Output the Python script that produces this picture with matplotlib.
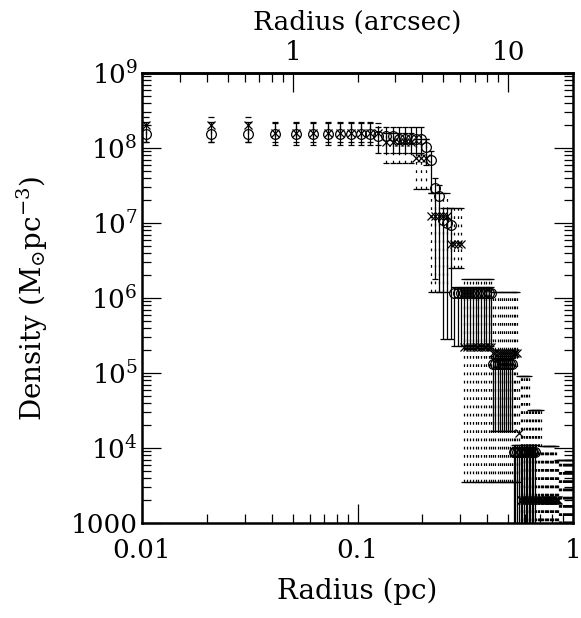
import matplotlib
matplotlib.use('Agg')
import matplotlib.pyplot as plt
from matplotlib.ticker import FixedLocator, FuncFormatter, NullFormatter
import numpy as np

# ---------------- data ----------------
radius_pc = [
    0.0104, 0.0208, 0.0312, 0.0416, 0.0520, 0.0624, 0.0728, 0.0832, 0.0936, 0.1040,
    0.1144, 0.1248, 0.1352, 0.1456, 0.1560, 0.1664, 0.1768, 0.1872, 0.1976, 0.2080,
    0.2184, 0.2288, 0.2392, 0.2496, 0.2600, 0.2704, 0.2808, 0.2912, 0.3016, 0.3120,
    0.3224, 0.3328, 0.3432, 0.3536, 0.3640, 0.3744, 0.3848, 0.3952, 0.4056, 0.4160,
    0.4264, 0.4368, 0.4472, 0.4576, 0.4680, 0.4784, 0.4888, 0.4992, 0.5096, 0.5200,
    0.5304, 0.5408, 0.5512, 0.5616, 0.5720, 0.5824, 0.5928, 0.6032, 0.6136, 0.6240,
    0.6344, 0.6448, 0.6552, 0.6656, 0.6760, 0.6864, 0.6968, 0.7072, 0.7176, 0.7280,
    0.7384, 0.7488, 0.7592, 0.7696, 0.7800, 0.7904, 0.8008, 0.8112, 0.8216, 0.8320,
    0.8424, 0.8528, 0.8632, 0.8736, 0.8840, 0.8944, 0.9048, 0.9152, 0.9256, 0.9360,
    0.9464, 0.9568, 0.9672, 0.9776, 0.9880, 0.9984]

# open circles, solid error bars (first 64 radii)
circle_rho = [
    1.55e8, 1.55e8, 1.55e8, 1.55e8, 1.55e8, 1.55e8, 1.55e8, 1.55e8, 1.55e8, 1.55e8,
    1.55e8, 1.45e8, 1.45e8, 1.45e8, 1.3e8, 1.3e8, 1.3e8, 1.3e8, 1.3e8, 1.03e8,
    6.9e7, 2.9e7, 2.3e7, 1.1e7, 1.0e7, 9.4e6, 1.15e6, 1.15e6, 1.15e6, 1.15e6,
    1.15e6, 1.15e6, 1.15e6, 1.15e6, 1.15e6, 1.15e6, 1.15e6, 1.15e6, 1.15e6, 1.15e6,
    1.3e5, 1.3e5, 1.3e5, 1.3e5, 1.3e5, 1.3e5, 1.3e5, 1.3e5, 1.3e5, 1.3e5,
    8.8e3, 8.8e3, 8.8e3, 8.8e3, 8.8e3, 8.8e3, 8.8e3, 8.8e3, 8.8e3, 8.8e3,
    8.8e3, 8.8e3, 8.8e3, 8.8e3]
circle_low = [
    1.2e8, 1.2e8, 1.2e8, 1.2e8, 1.2e8, 1.2e8, 1.2e8, 1.2e8, 1.2e8, 1.2e8,
    1.2e8, 8.6e7, 8.6e7, 8.6e7, 8.6e7, 8.6e7, 8.6e7, 8.6e7, 8.6e7, 6.0e7,
    2.5e7, 1.8e6, 1.2e6, 2.8e5, 2.8e5, 2.8e5, 2.3e5, 2.3e5, 2.3e5, 2.3e5,
    2.3e5, 2.3e5, 2.3e5, 2.3e5, 2.3e5, 2.3e5, 2.3e5, 2.3e5, 2.3e5, 2.3e5,
    1.7e4, 1.7e4, 1.7e4, 1.7e4, 1.7e4, 1.7e4, 1.7e4, 1.7e4, 1.7e4, 1.7e4,
    500, 500, 500, 500, 500, 500, 500, 500, 500, 500,
    500, 500, 500, 500]
circle_high = [
    2.2e8, 2.2e8, 2.2e8, 2.2e8, 2.2e8, 2.2e8, 2.2e8, 2.2e8, 2.2e8, 2.2e8,
    2.2e8, 1.9e8, 1.9e8, 1.9e8, 1.9e8, 1.9e8, 1.9e8, 1.9e8, 1.9e8, 1.3e8,
    9.0e7, 4.0e7, 3.2e7, 1.6e7, 1.6e7, 1.6e7, 1.4e6, 1.4e6, 1.4e6, 1.4e6,
    1.4e6, 1.4e6, 1.4e6, 1.4e6, 1.4e6, 1.4e6, 1.4e6, 1.4e6, 1.4e6, 1.4e6,
    1.6e5, 1.6e5, 1.6e5, 1.6e5, 1.6e5, 1.6e5, 1.6e5, 1.6e5, 1.6e5, 1.6e5,
    1.1e4, 1.1e4, 1.1e4, 1.1e4, 1.1e4, 1.1e4, 1.1e4, 1.1e4, 1.1e4, 1.1e4,
    1.1e4, 1.1e4, 1.1e4, 1.1e4]

# crosses, dotted error bars (all 96 radii)
cross_rho = [
    2.0e8, 2.0e8, 2.0e8, 1.6e8, 1.6e8, 1.6e8, 1.6e8, 1.6e8, 1.6e8, 1.6e8,
    1.6e8, 1.6e8, 1.2e8, 1.2e8, 1.2e8, 1.2e8, 1.2e8, 7.3e7, 7.3e7, 7.3e7,
    1.25e7, 1.25e7, 1.25e7, 1.25e7, 1.25e7, 5.2e6, 5.2e6, 5.2e6, 5.2e6, 2.2e5,
    2.2e5, 2.2e5, 2.2e5, 2.2e5, 2.2e5, 2.2e5, 2.2e5, 2.2e5, 2.2e5, 2.2e5,
    1.85e5, 1.85e5, 1.85e5, 1.85e5, 1.85e5, 1.85e5, 1.85e5, 1.85e5, 1.85e5, 1.85e5,
    1.85e5, 1.85e5, 1.85e5, 1.6e4, 2.0e3, 2.0e3, 2.0e3, 2.0e3, 2.0e3, 2.0e3,
    2.0e3, 2.0e3, 2.0e3, 2.0e3, 2.0e3, 2.0e3, 2.0e3, 2.0e3, 2.0e3, 2.0e3,
    2.0e3, 2.0e3, 2.0e3, 2.0e3, 2.0e3, 2.0e3, 2.0e3, 2.0e3, 2.0e3, 2.0e3,
    2.0e3, 2.0e3, 700, 700, 700, 700, 700, 700, 700, 700,
    700, 700, 700, 700, 700, 700]
cross_low = [
    1.2e8, 1.2e8, 1.2e8, 1.1e8, 1.1e8, 1.1e8, 1.1e8, 1.1e8, 1.1e8, 1.1e8,
    1.1e8, 1.1e8, 6.3e7, 6.3e7, 6.3e7, 6.3e7, 6.3e7, 2.8e7, 2.8e7, 2.8e7,
    1.2e6, 1.2e6, 1.2e6, 1.2e6, 1.2e6, 2.5e6, 2.5e6, 2.5e6, 2.5e6, 3.5e3,
    3.5e3, 3.5e3, 3.5e3, 3.5e3, 3.5e3, 3.5e3, 3.5e3, 3.5e3, 3.5e3, 3.5e3,
    3.5e3, 3.5e3, 3.5e3, 3.5e3, 3.5e3, 3.5e3, 3.5e3, 3.5e3, 3.5e3, 3.5e3,
    3.5e3, 3.5e3, 3.5e3, 3.5e3, 300, 300, 300, 300, 300, 300,
    300, 300, 300, 300, 300, 300, 300, 300, 300, 300,
    300, 300, 300, 300, 300, 300, 300, 300, 300, 300,
    300, 300, 100, 100, 100, 100, 100, 100, 100, 100,
    100, 100, 100, 100, 100, 100]
cross_high = [
    2.6e8, 2.6e8, 2.6e8, 2.15e8, 2.15e8, 2.15e8, 2.15e8, 2.15e8, 2.15e8, 2.15e8,
    2.15e8, 2.15e8, 1.6e8, 1.6e8, 1.6e8, 1.6e8, 1.6e8, 1.3e8, 1.3e8, 1.3e8,
    2.5e7, 2.5e7, 2.5e7, 2.5e7, 2.5e7, 1.6e7, 1.6e7, 1.6e7, 1.6e7, 1.8e6,
    1.8e6, 1.8e6, 1.8e6, 1.8e6, 1.8e6, 1.8e6, 1.8e6, 1.8e6, 1.8e6, 1.8e6,
    1.2e6, 1.2e6, 1.2e6, 1.2e6, 1.2e6, 1.2e6, 1.2e6, 1.2e6, 1.2e6, 1.2e6,
    1.2e6, 1.2e6, 1.2e6, 9.0e4, 9.0e4, 9.0e4, 9.0e4, 9.0e4, 9.0e4, 9.0e4,
    3.2e4, 3.2e4, 3.2e4, 3.2e4, 3.2e4, 3.2e4, 3.2e4, 3.2e4, 1.05e4, 1.05e4,
    1.05e4, 1.05e4, 1.05e4, 1.05e4, 1.05e4, 1.05e4, 1.05e4, 1.05e4, 1.05e4, 1.05e4,
    7.0e3, 7.0e3, 7.0e3, 7.0e3, 7.0e3, 7.0e3, 7.0e3, 7.0e3, 7.0e3, 7.0e3,
    7.0e3, 7.0e3, 7.0e3, 7.0e3, 7.0e3, 7.0e3]

pc_per_arcsec = 0.05
top_ticks = [1, 10]
top_minor = [0.2, 0.3, 0.4, 0.5, 0.6, 0.7, 0.8, 0.9, 2, 3, 4, 5, 6, 7, 8, 9, 20]
x_ticks = [0.01, 0.1, 1]
x_ticklabels = ['0.01', '0.1', '1']
y_ticks = [1e3, 1e4, 1e5, 1e6, 1e7, 1e8, 1e9]
y_ticklabels = ['1000', r'$10^{4}$', r'$10^{5}$', r'$10^{6}$', r'$10^{7}$', r'$10^{8}$', r'$10^{9}$']

# ---------------- figure ----------------
plt.rcParams['font.family'] = ['DejaVu Serif']
plt.rcParams['mathtext.fontset'] = 'dejavuserif'

fig = plt.figure(figsize=(5.81, 6.18), dpi=100)
ax = fig.add_axes([142 / 581, 1 - 523 / 618, 431 / 581, 450 / 618])
ax.set_xscale('log')
ax.set_yscale('log')
ax.set_xlim(0.01, 1)
ax.set_ylim(1e3, 1e9)

n_c = len(circle_rho)
c_r = np.array(radius_pc[:n_c])
c_rho = np.array(circle_rho)
c_err = [c_rho - np.array(circle_low), np.array(circle_high) - c_rho]
ax.errorbar(c_r, c_rho, yerr=c_err, fmt='o', ms=7, mfc='none', mec='k',
            mew=0.9, ecolor='k', elinewidth=0.9, capsize=2.5, capthick=0.9, zorder=3)

x_r = np.array(radius_pc[:len(cross_rho)])
x_rho = np.array(cross_rho)
x_err = [x_rho - np.array(cross_low), np.array(cross_high) - x_rho]
eb = ax.errorbar(x_r, x_rho, yerr=x_err, fmt='x', ms=5.5, mec='k', mew=0.9,
                 ecolor='k', elinewidth=0.9, capsize=2.5, capthick=0.6, zorder=2)
for lc in eb[2]:
    lc.set_linestyle((0, (2.2, 4.4)))

# axes styling
for s in ax.spines.values():
    s.set_linewidth(1.8)

ax.xaxis.set_major_locator(FixedLocator(x_ticks))
ax.xaxis.set_major_formatter(FuncFormatter(lambda v, p: x_ticklabels[x_ticks.index(min(x_ticks, key=lambda t: abs(np.log10(t) - np.log10(v))))]))
ax.yaxis.set_major_locator(FixedLocator(y_ticks))
ax.yaxis.set_major_formatter(FuncFormatter(lambda v, p: y_ticklabels[int(round(np.log10(v))) - 3]))
ax.xaxis.set_minor_formatter(NullFormatter())
ax.yaxis.set_minor_formatter(NullFormatter())

ax.tick_params(which='both', direction='in', top=False, right=True, width=0.9)
ax.tick_params(which='major', length=13.5)
ax.tick_params(which='minor', length=6.5)
ax.tick_params(axis='x', which='major', pad=11, labelsize=19)
ax.tick_params(axis='y', which='major', pad=3, labelsize=19)

ax.set_xlabel('Radius (pc)', fontsize=20, labelpad=10)
ax.set_ylabel(r'Density (M$_{\odot}$pc$^{-3}$)', fontsize=20, labelpad=15)

sec = ax.secondary_xaxis('top', functions=(lambda x: x / pc_per_arcsec,
                                           lambda x: x * pc_per_arcsec))
sec.xaxis.set_major_locator(FixedLocator(top_ticks))
sec.xaxis.set_minor_locator(FixedLocator(top_minor))
sec.xaxis.set_major_formatter(FuncFormatter(lambda v, p: '%g' % v))
sec.xaxis.set_minor_formatter(NullFormatter())
sec.tick_params(which='both', direction='in', width=0.9)
sec.tick_params(which='major', length=13.5, pad=6, labelsize=19)
sec.tick_params(which='minor', length=6.5)
sec.set_xlabel('Radius (arcsec)', fontsize=19, labelpad=7)
sec.spines['top'].set_linewidth(1.8)

fig.savefig('out.png', dpi=100)
